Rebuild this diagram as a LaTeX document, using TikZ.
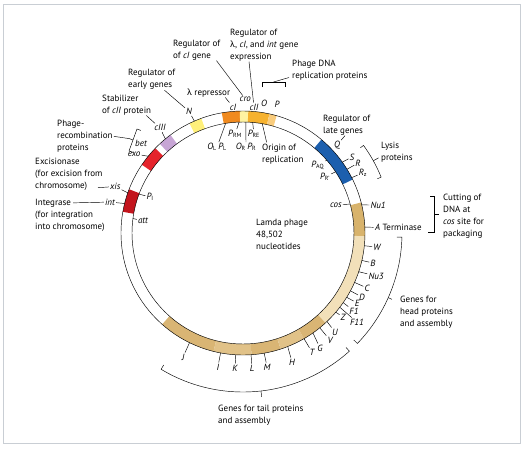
\documentclass[tikz,border=0pt]{standalone}
\usepackage{fontspec}
\setmainfont{PT Sans}
\newfontfamily\lamfont{Lato} % λ 用 Lato（PT Sans 无希腊字母）
\usetikzlibrary{
  calc % 坐标计算
}

% 颜色
\definecolor{framegray}{HTML}{C9CED4}
\definecolor{intred}{HTML}{C3141D}
\definecolor{exored}{HTML}{E5232B}
\definecolor{cthree}{HTML}{C7A5D5}
\definecolor{nyellow}{HTML}{FFF07A}
\definecolor{cione}{HTML}{F08A1F}
\definecolor{croyel}{HTML}{FFF3A2}
\definecolor{oamber}{HTML}{F6B22F}
\definecolor{plight}{HTML}{F9CC7D}
\definecolor{lateblue}{HTML}{1C5FAE}
\definecolor{termtan}{HTML}{D8B36C}
\definecolor{headcream}{HTML}{F2E0B9}
\definecolor{tailtan}{HTML}{D9B574}
\definecolor{tailpale}{HTML}{E1C288}

\newcommand{\lsub}[1]{\textsubscript{\upshape #1}} % 下标（正体）

\begin{document}
\begin{tikzpicture}[x=1pt, y=1pt, line width=0.45pt, % 整体思路：以环心为原点，基因段按角度画在环上，标签用极坐标放置
  note/.style={font=\fontsize{9}{12}\selectfont, align=left, anchor=base west, inner sep=0pt}, % 多行文字的 base 是最后一行的基线
  gene/.style={font=\fontsize{9}{10}\selectfont\itshape, inner sep=1pt},
  tick/.style={line width=0.45pt},
  brack/.style={line width=0.45pt}]
  \def\rout{122} \def\rin{111} % 外环与内环半径

  \useasboundingbox (-243,-220) rectangle (286,233); % 与参考图同样的画幅
  \draw[framegray, line width=1pt] (-239,-210) rectangle (277,228); % 外框

  % 环上的基因段
  \foreach \a/\b/\col in {159/170/intred, 136/146/exored, 126.5/133/cthree, 110/116/nyellow,
      91.5/100/cione, 87.5/91.5/croyel, 77.5/87.5/oamber, 74/77.5/plight,
      26/50/lateblue, -1.5/14.5/termtan, -47.5/-1.5/headcream,
      -131.5/-104/tailtan, -104/-86/tailpale, -86/-72/tailtan, -72/-60/tailpale, -60/-47.5/tailtan}
    \fill[\col] (\a:\rout) arc[start angle=\a, end angle=\b, radius=\rout]
      -- (\b:\rin) arc[start angle=\b, end angle=\a, radius=\rin] -- cycle;
  \draw (0,0) circle[radius=\rout]; % 外圈
  \draw (0,0) circle[radius=\rin];  % 内圈

  % 环外基因名（带短线）
  \foreach \ang/\rr/\txt/\nm/\tk in {113.9/133/N/N/113.5, 128.3/134/cIII/cIII/129.5,
      144/134.6/exo/exo/141, 160/136/xis/xis/160.8, 166.9/136.6/int/int/166,
      34.9/132.9/S/S/35.5, 31.3/134.6/R/R/31.5, 26.6/134.2/R\lsub{z}/Rz/27, 11.7/137.9/Nu1/Nu1/13.3,
      -6/134.7/W/W/-6, -13/133.4/B/B/-13, -17.9/139.8/Nu3/Nu3/-18.5, -23.9/135.6/C/C/-23.9,
      -28.3/135.1/D/D/-28.3, -31.5/133.8/E/E/-31.8, -35.1/135.7/F1/F1/-34.8, -38/144.6/F11/F11/-37.5,
      -40/130.6/Z/Z/-40.5, -47.1/135.1/U/U/-46.5, -50.9/137.9/V/V/-51, -56.2/138.4/G/G/-55,
      -59.9/137.6/T/T/-60, -69.2/138/H/H/-68.5, -79.8/136.1/M/M/-80, -86.2/135.3/L/L/-86.2,
      -93.4/135.2/K/K/-93.4, -100.6/136.3/I/I/-100.6, -115.8/137.8/J/J/-116} {
    \node[gene] (\nm) at (\ang:\rr) {\txt};
    \draw[tick] (\tk:\rout) -- (\nm);
  }
  % 环外基因名（无短线）
  \foreach \ang/\rr/\txt/\nm in {138.6/136/bet/bet, 94.5/126.4/cI/cI, 89/134/cro/cro,
      85/126.5/cII/cII, 80.8/131.7/O/O, 75.2/133.4/P/P, 43.1/128.8/Q/Q}
    \node[gene] (\nm) at (\ang:\rr) {\txt};
  % 环内启动子与位点
  \foreach \ang/\rr/\txt/\nm/\tk in {158.8/99.7/P\lsub{I}/PI/159.5, 173/100.7/att/att/172.5,
      106.8/89.8/O\lsub{L}\,P\lsub{L}/OLPL/99, 94.6/99.3/P\lsub{RM}/PRM/92,
      88/86/O\lsub{R}\,P\lsub{R}/ORPR/88.5, 83.7/99.6/P\lsub{RE}/PRE/85,
      42.2/101/P\lsub{AQ}/PAQ/41, 34.3/99.3/P\lsub{R'}/PRp/33.5, 16.8/97/cos/cos/15.1} {
    \node[gene] (\nm) at (\ang:\rr) {\txt};
    \draw[tick] (\tk:\rin) -- (\nm);
  }

  % 说明文字（坐标为最后一行的基线起点）
  \node[note] (regcI) at (-70,174.5) {Regulator of\\of \textit{cI} gene};
  \node[note] (reglam) at (-13,173.5) {Regulator of\\{\lamfont λ}, \textit{cI}, and \textit{int} gene\\expression};
  \node[note] (repr) at (-56,137.5) {{\lamfont λ} repressor};
  \node[note] (regearly) at (-115,145.5) {Regulator of\\early genes};
  \node[note] (stab) at (-141,119.5) {Stabilizer\\of \textit{cII} protein};
  \node[note] (recomb) at (-186,82.5) {Phage-\\recombination\\proteins};
  \node[note] (excis) at (-208,44.5) {Excisionase\\(for excision from\\chromosome)};
  \node[note] (integr) at (-208,27.5) {Integrase};
  \node[note] (integnote) at (-208,3.5) {(for integration\\into chromosome)};
  \node[note] (repl) at (49,154.5) {Phage DNA\\replication proteins};
  \node[note] (reglate) at (80,99.5) {Regulator of\\late genes};
  \node[note] (origin) at (19,70.5) {Origin of\\replication};
  \node[note] (lysis) at (138,72.5) {Lysis\\proteins};
  \node[note] (cutting) at (200,-3.5) {Cutting of\\DNA at\\\textit{cos} site for\\packaging};
  \node[note] (aterm) at (132,2.5) {\textit{A} Terminase};
  \node[note] (head) at (157,-93.5) {Genes for\\head proteins\\and assembly};
  \node[note] (tail) at (-25,-190.5) {Genes for tail proteins\\and assembly};
  \node[note] (centre) at (13,-16.5) {Lamda phage\\48,502\\nucleotides};

  % 引线
  \draw[tick, shorten <=1pt] (regearly) -- (N);
  \draw[tick] ([xshift=-5pt]stab.south east) -- (cIII);
  \draw[tick] ([xshift=-4pt]regcI.south east) -- (cro);
  \draw[tick] ([xshift=19pt]reglam.south west) -- (cII);
  \draw[tick] ([xshift=-5pt]repr.south east) -- (cI);
  \draw[tick] ([xshift=22pt]reglate.south west) -- (Q);
  \draw[tick] ([shift={(63pt,3pt)}]excis.south west) -- (xis);
  \draw[tick, shorten <=2pt] (integr) -- (int);
  \draw[tick, shorten >=1.5pt] (2.8:\rout) -- (aterm.west);
  \draw[tick, shorten >=1.5pt] (80:\rin) -- ([xshift=5pt]origin.north west);

  % 括号
  \coordinate (recA) at (-106,104); % 重组蛋白括号
  \coordinate (recB) at (-114,82);
  \coordinate (recnotch) at (-113.8,94.4);
  \draw[brack] ($(recA)+(3.8,-1.4)$) -- (recA) -- (recB) -- ($(recB)+(3.8,-1.4)$);
  \draw[brack] ($(recA)!0.5!(recB)$) -- (recnotch);
  \draw[tick, shorten <=1pt] (recomb.east) -- (recnotch);
  \coordinate (replmid) at (30.5,151); % 复制蛋白括号
  \draw[brack] (19,146) -- (19,151) -- (42,151) -- (42,146);
  \draw[tick] (replmid) -- ([shift={(-3pt,3pt)}]repl.south west);
  \draw[brack] (22:145) -- (22:149) arc[start angle=22, end angle=36, radius=149] -- (36:145); % 裂解蛋白
  \draw[brack] (29:149) -- (29:155);
  \draw[brack] (187,37) -- (191,37) -- (191,1) -- (185,1); % cos 切割
  \draw[brack] (191,19) -- (196,19);
  \draw[brack] (-44:154) -- (-44:159) arc[start angle=-44, end angle=-1.5, radius=159] -- (-1.5:154); % 头部基因
  \draw[brack] (-24:159) -- (-24:163);
  \draw[brack] (-121:154) -- (-121:159) arc[start angle=-121, end angle=-48, radius=159] -- (-48:154); % 尾部基因
  \draw[brack] (-83.5:159) -- (-83.5:165);
\end{tikzpicture}
\end{document}
